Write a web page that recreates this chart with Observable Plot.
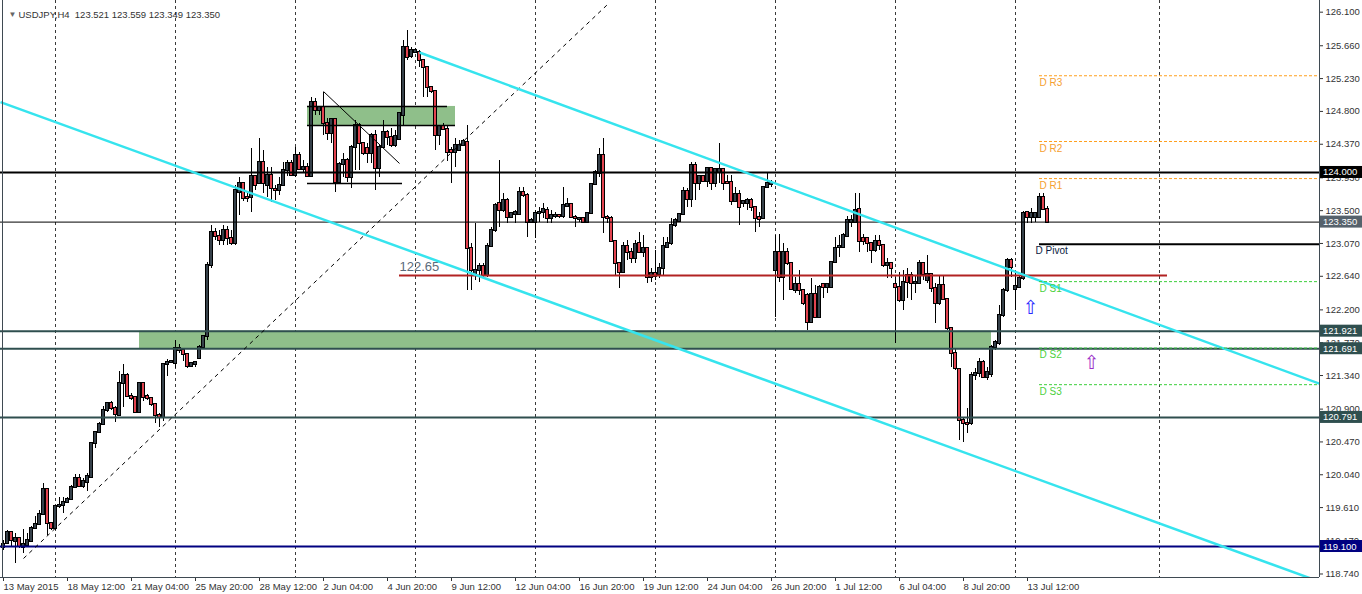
<!DOCTYPE html>
<html><head><meta charset="utf-8">
<script src="https://cdn.jsdelivr.net/npm/d3@7"></script>
<script src="https://cdn.jsdelivr.net/npm/@observablehq/plot@0.6"></script>
<style>
html,body{margin:0;padding:0;background:#fff;}
#chart{width:1362px;height:594px;overflow:hidden;}
</style></head><body><div id="chart"></div>
<script>
// ---- data (USDJPY H4, bar index 0 = first visible bar) ----
const open = [
119.09,119.14,119.28,119.17,119.21,119.09,119.11,119.17,119.34,119.39,
119.52,119.85,119.40,119.34,119.62,119.64,119.68,119.72,119.87,119.99,
119.89,119.94,120.00,120.45,120.59,120.70,120.88,120.97,120.91,120.82,
121.24,121.34,121.07,121.05,120.86,121.24,121.06,121.04,120.96,120.82,
120.79,121.48,121.51,121.50,121.69,121.67,121.62,121.46,121.49,121.56,
121.71,121.85,122.78,123.21,123.16,123.11,123.24,123.14,123.07,123.74,
123.86,123.67,123.67,123.95,123.86,124.13,123.83,123.96,123.78,123.76,
123.83,124.03,124.12,123.96,124.22,124.04,124.07,123.95,124.92,124.81,
124.85,124.64,124.51,124.69,123.87,124.10,124.16,123.93,124.33,124.62,
124.38,124.31,124.25,124.48,124.05,124.33,124.52,124.46,124.35,124.43,
124.75,125.64,125.52,125.57,125.57,125.47,125.38,125.11,125.06,124.49,
124.60,124.56,124.29,124.26,124.29,124.35,124.39,123.00,122.66,122.72,
122.77,122.65,123.03,123.24,123.59,123.50,123.63,123.41,123.45,123.45,
123.74,123.70,123.35,123.35,123.46,123.47,123.50,123.40,123.42,123.43,
123.42,123.56,123.58,123.41,123.38,123.40,123.35,123.46,123.84,123.99,
124.22,123.41,123.40,123.10,122.81,122.69,123.03,122.95,122.87,123.07,
122.95,123.01,122.62,122.68,122.66,122.74,123.02,123.07,123.31,123.36,
123.45,123.75,123.65,124.09,123.86,123.95,123.88,124.05,123.86,124.00,
124.04,123.87,123.87,123.62,123.71,123.59,123.59,123.63,123.54,123.41,
123.40,123.80,123.84,122.72,122.95,122.62,122.95,122.81,122.45,122.53,
122.45,122.39,122.04,122.40,122.10,122.53,122.49,122.49,122.82,123.02,
123.02,123.16,123.35,123.35,123.52,123.14,123.14,123.07,122.98,123.10,
123.04,122.78,122.81,122.53,122.49,122.32,122.65,122.65,122.55,122.55,
122.81,122.59,122.66,122.48,122.28,122.52,122.34,121.96,121.63,121.42,
120.75,120.71,120.71,121.34,121.37,121.51,121.32,121.35,121.71,121.76,
122.13,122.45,122.85,122.47,122.49,122.61,123.48,123.41,123.41,123.41,
123.67,123.521];
const high = [
119.18,119.31,119.29,119.27,119.22,119.32,119.27,119.36,119.49,119.57,
119.93,119.86,119.42,119.64,119.74,119.74,119.74,119.90,120.04,120.04,
119.99,120.06,120.46,120.59,120.73,120.93,120.99,121.00,120.93,121.39,
121.49,121.37,121.10,121.06,121.25,121.25,121.09,121.05,120.97,120.84,
121.50,121.55,121.54,121.80,121.75,121.69,121.63,121.51,121.52,121.73,
121.86,122.82,123.31,123.27,123.24,123.31,123.29,123.24,123.83,123.93,
123.87,123.72,124.31,123.96,124.45,124.29,124.07,124.07,123.83,123.93,
124.13,124.16,124.16,124.33,124.26,124.16,124.12,124.98,124.97,124.86,
125.05,124.71,124.71,124.71,124.13,124.25,124.18,124.35,124.68,124.64,
124.39,124.38,124.51,124.55,124.35,124.68,124.55,124.58,124.55,124.79,
125.73,125.86,125.64,125.62,125.60,125.48,125.39,125.12,125.07,124.62,
124.64,124.62,124.33,124.45,124.42,124.43,124.62,123.07,123.33,122.81,
122.81,123.07,123.28,123.59,124.16,123.73,123.66,123.48,123.50,123.80,
123.80,123.72,123.40,123.50,123.54,123.59,123.54,123.50,123.48,123.44,
123.80,123.66,123.59,123.44,123.41,123.41,123.48,123.86,124.03,124.31,
124.45,123.44,123.42,123.11,122.82,123.08,123.11,123.00,123.11,123.21,
123.17,123.02,122.74,122.98,122.81,123.15,123.15,123.40,123.40,123.46,
123.80,123.79,124.13,124.13,123.96,123.96,124.07,124.07,124.05,124.38,
124.05,123.96,123.96,123.80,123.76,123.63,123.66,123.66,123.55,123.48,
123.82,124.00,123.90,123.18,123.19,123.07,123.00,122.82,122.62,122.72,
122.47,122.41,122.61,122.52,122.52,122.55,122.53,122.82,123.15,123.18,
123.20,123.42,123.44,123.73,123.73,123.19,123.15,123.08,123.18,123.18,
123.06,122.87,122.82,122.62,122.69,122.72,122.74,122.69,122.65,122.85,
122.82,122.91,122.67,122.55,122.65,122.65,122.35,121.97,121.69,121.43,
120.79,120.91,121.38,121.43,121.56,121.54,121.45,121.73,121.80,122.26,
122.48,122.87,122.87,122.68,122.65,123.49,123.49,123.53,123.48,123.73,
123.73,123.559];
const low = [
119.05,119.12,119.09,118.88,119.07,119.01,119.10,119.16,119.32,119.37,
119.51,119.24,119.31,119.31,119.60,119.53,119.66,119.70,119.86,119.87,
119.86,119.82,119.99,120.38,120.58,120.69,120.86,120.88,120.72,120.81,
120.92,121.05,121.01,120.84,120.85,121.00,121.01,120.93,120.71,120.66,
120.74,121.33,121.50,121.43,121.63,121.52,121.43,121.45,121.45,121.55,
121.69,121.80,122.74,123.11,123.04,123.04,123.04,123.04,123.04,123.44,
123.62,123.61,123.48,123.76,123.84,123.72,123.67,123.61,123.63,123.70,
123.82,123.95,123.95,123.93,124.03,124.00,123.93,123.93,124.75,124.75,
124.48,124.42,124.38,123.74,123.86,123.93,123.87,123.79,124.03,124.03,
124.22,124.12,124.12,123.76,123.93,124.31,124.35,124.33,124.33,124.42,
124.62,125.47,125.49,125.56,125.38,124.98,124.98,125.03,124.29,124.35,
124.55,124.14,123.86,124.07,124.28,124.34,122.45,122.45,122.59,122.56,
122.62,122.62,123.02,123.21,123.28,123.48,123.33,123.40,123.33,123.44,
123.67,123.15,123.33,123.14,123.35,123.40,123.33,123.33,123.40,123.40,
123.40,123.54,123.40,123.28,123.35,123.33,123.33,123.45,123.83,123.93,
123.20,123.33,123.08,122.65,122.48,122.68,122.85,122.81,122.81,122.94,
122.89,122.55,122.56,122.59,122.61,122.65,123.00,123.04,123.28,123.35,
123.44,123.54,123.54,123.63,123.76,123.87,123.80,123.76,123.80,123.86,
123.76,123.84,123.57,123.61,123.31,123.54,123.50,123.49,123.21,123.28,
123.39,123.79,123.80,122.10,122.56,122.32,122.78,122.45,122.42,122.39,
122.26,121.93,122.02,122.09,122.09,122.35,122.42,122.48,122.81,122.89,
123.01,123.15,123.28,123.33,122.95,123.04,122.95,122.81,122.95,122.98,
122.76,122.61,122.61,121.76,122.30,122.19,122.35,122.32,122.42,122.54,
122.59,122.55,122.43,122.02,122.26,122.32,121.93,121.45,121.41,120.49,
120.46,120.58,120.69,121.28,121.32,121.30,121.28,121.32,121.67,121.73,
122.10,122.43,122.62,122.19,122.48,122.59,123.33,123.33,123.35,123.40,
123.50,123.349];
const close = [
119.13,119.28,119.18,119.21,119.10,119.13,119.18,119.34,119.39,119.52,
119.85,119.40,119.34,119.63,119.64,119.68,119.72,119.87,119.99,119.89,
119.95,120.02,120.45,120.59,120.70,120.88,120.97,120.91,120.83,121.24,
121.34,121.07,121.04,120.86,121.24,121.05,121.04,120.96,120.82,120.79,
121.48,121.51,121.52,121.69,121.67,121.62,121.46,121.50,121.51,121.71,
121.85,122.78,123.21,123.16,123.11,123.24,123.14,123.07,123.76,123.86,
123.66,123.66,123.95,123.83,124.13,123.86,123.96,123.79,123.76,123.83,
124.03,124.12,123.96,124.22,124.04,124.07,123.95,124.92,124.81,124.85,
124.64,124.51,124.69,123.87,124.10,124.16,123.93,124.33,124.62,124.38,
124.25,124.25,124.48,124.05,124.33,124.52,124.46,124.35,124.47,124.77,
125.64,125.51,125.60,125.60,125.47,125.38,125.11,125.06,124.49,124.60,
124.56,124.26,124.26,124.35,124.35,124.41,123.00,122.72,122.72,122.77,
122.65,123.03,123.24,123.57,123.50,123.63,123.41,123.46,123.48,123.74,
123.70,123.35,123.37,123.46,123.48,123.51,123.40,123.44,123.44,123.42,
123.57,123.58,123.41,123.40,123.40,123.35,123.46,123.84,124.00,124.22,
123.41,123.40,123.10,122.81,122.69,123.03,122.95,122.87,123.06,122.95,
123.00,122.62,122.68,122.64,122.74,123.03,123.07,123.31,123.37,123.45,
123.75,123.65,124.09,123.86,123.95,123.88,124.05,123.86,124.04,124.04,
123.86,123.86,123.62,123.71,123.54,123.62,123.63,123.54,123.40,123.39,
123.80,123.86,123.86,122.95,122.62,122.95,122.81,122.47,122.53,122.45,
122.28,122.04,122.40,122.10,122.49,122.49,122.53,122.82,123.00,123.03,
123.18,123.37,123.37,123.50,123.10,123.10,123.07,122.98,123.10,123.04,
122.78,122.81,122.74,122.49,122.32,122.56,122.56,122.55,122.56,122.81,
122.66,122.66,122.48,122.28,122.52,122.34,121.96,121.63,121.43,120.75,
120.71,120.70,121.34,121.37,121.51,121.32,121.38,121.71,121.77,122.13,
122.45,122.85,122.76,122.51,122.61,123.46,123.41,123.46,123.46,123.67,
123.52,123.350];

const timeLabels = ["13 May 2015","18 May 12:00","21 May 04:00","25 May 20:00","28 May 12:00","2 Jun 04:00","4 Jun 20:00","9 Jun 12:00","12 Jun 04:00","16 Jun 20:00","19 Jun 12:00","24 Jun 04:00","26 Jun 20:00","1 Jul 12:00","6 Jul 04:00","8 Jul 20:00","13 Jul 12:00"];
const timeLabelBars = [0,16,32,48,64,80,96,112,128,144,160,176,192,208,224,240,256];
const gridBars = [13,43,73,103,133,163,193,223,253,289];
const priceTicks = [126.100,125.660,125.230,124.800,124.370,123.930,123.500,123.070,122.640,122.200,121.770,121.340,120.900,120.470,120.040,119.610,119.170,118.740];

// horizontal levels
const resistance = 124.000;
const currentPrice = 123.350;
const zoneLevels = [121.921, 121.691, 120.791];
const supportLevel = 119.100;
const redLevel = 122.65;
const redLevelSpan = [99, 291];

// pivots
const pivotNames = ["D R3","D R2","D R1","D Pivot","D S1","D S2","D S3"];
const pivotValues = [125.267,124.406,123.920,123.060,122.570,121.700,121.220];
const pivotStartBar = 259;

// zones [bar from, bar to, price low, price high]
const bigZone = [34, 247, 121.691, 121.921];
const smallZone = [76, 113, 124.616, 124.865];

// trend lines [bar1, price1, bar2, price2]
const channelUpper = [104, 125.572, 329, 121.233];
const channelLower = [-0.75, 124.922, 329, 118.64];
const dashedTrend = [5, 118.943, 151, 126.20];
const thinDiagonal = [80, 125.061, 99, 124.118];
const boxLines = [[76, 111, 124.865], [76, 113, 124.616], [76, 99.75, 123.856]];

// arrows [bar, price]
const arrows = [[256.75, 122.23], [272, 121.50]];

// ---- build ----
const n = open.length;
const candles = d3.range(n).map(i => ({i, o: open[i], h: high[i], l: low[i], c: close[i]}));
const W = 1362, H = 594, mR = 43, mB = 17;
const seg = a => [{x1: a[0], y1: a[1], x2: a[2], y2: a[3]}];
const font = "'Liberation Sans', Arial, sans-serif";
const title = `USDJPY,H4\u00a0\u00a0${open[n-1].toFixed(3)} ${high[n-1].toFixed(3)} ${low[n-1].toFixed(3)} ${close[n-1].toFixed(3)}`;
const pivots = pivotNames.map((name, k) => ({name, v: pivotValues[k], k}));
const pivotColor = k => k < 3 ? "#ff9f1c" : k === 3 ? "#000" : "#3ccf3c";
const labelColor = k => k < 3 ? "#f5a030" : k === 3 ? "#0a1a40" : "#4cd040";

const chart = Plot.plot({
  width: W, height: H,
  marginLeft: 0, marginRight: mR, marginTop: 0, marginBottom: mB,
  x: {domain: [-0.75, 329]},
  y: {domain: [118.694, 126.253]},
  style: {fontFamily: font, fontSize: "9px", background: "#fff", color: "#333", overflow: "visible"},
  marks: [
    Plot.ruleX(gridBars, {stroke: "#3a3a3a", strokeDasharray: "3,3", strokeWidth: 1}),
    // zones
    Plot.rect([bigZone], {x1: d => d[0], x2: d => d[1], y1: d => d[2], y2: d => d[3], fill: "#8fbf8a"}),
    Plot.rect([smallZone], {x1: d => d[0], x2: d => d[1], y1: d => d[2], y2: d => d[3], fill: "#8fbf8a"}),
    // candles
    Plot.ruleX(candles, {x: "i", y1: "l", y2: "h", stroke: "#000", strokeWidth: 1, shapeRendering: "crispEdges"}),
    Plot.rect(candles.filter(d => d.c >= d.o), {x1: d => d.i - 0.3, x2: d => d.i + 0.3, y1: "o", y2: "c", fill: "#36414a", stroke: "#000", strokeWidth: 1, insetTop: -0.5, insetBottom: -0.5, shapeRendering: "crispEdges"}),
    Plot.rect(candles.filter(d => d.c < d.o), {x1: d => d.i - 0.3, x2: d => d.i + 0.3, y1: "o", y2: "c", fill: "#e2434f", stroke: "#000", strokeWidth: 1, insetTop: -0.5, insetBottom: -0.5, shapeRendering: "crispEdges"}),
    // levels
    Plot.ruleY([resistance], {stroke: "#000", strokeWidth: 2}),
    Plot.ruleY([currentPrice], {stroke: "#000", strokeWidth: 1}),
    Plot.ruleY(zoneLevels, {stroke: "#2f4f4f", strokeWidth: 2}),
    Plot.ruleY([supportLevel], {stroke: "#000080", strokeWidth: 2}),
    Plot.ruleY([redLevel], {x1: redLevelSpan[0], x2: redLevelSpan[1], stroke: "#b22222", strokeWidth: 2}),
    Plot.text([redLevel.toFixed(2)], {x: redLevelSpan[0], y: redLevel, dy: -9, textAnchor: "start", fill: "#5b6b7b", fontSize: 13}),
    // drawn box lines
    Plot.ruleY(boxLines, {x1: d => d[0], x2: d => d[1], y: d => d[2], stroke: "#000", strokeWidth: 1.5}),
    Plot.link(seg(thinDiagonal), {x1: "x1", y1: "y1", x2: "x2", y2: "y2", stroke: "#000", strokeWidth: 1}),
    Plot.link(seg(dashedTrend), {x1: "x1", y1: "y1", x2: "x2", y2: "y2", stroke: "#000", strokeWidth: 1, strokeDasharray: "4,4"}),
    Plot.link(seg(channelUpper), {x1: "x1", y1: "y1", x2: "x2", y2: "y2", stroke: "#36e4ee", strokeWidth: 2.5, clip: true}),
    Plot.link(seg(channelLower), {x1: "x1", y1: "y1", x2: "x2", y2: "y2", stroke: "#36e4ee", strokeWidth: 2.5, clip: true}),
    // pivots
    Plot.ruleY(pivots.filter(d => d.k !== 3), {x1: pivotStartBar, x2: 329, y: "v", stroke: d => pivotColor(d.k), strokeDasharray: "3,2", strokeWidth: 1}),
    Plot.ruleY(pivots.filter(d => d.k === 3), {x1: pivotStartBar, x2: 329, y: "v", stroke: "#000", strokeWidth: 2}),
    Plot.text(pivots.filter(d => d.k !== 3), {x: pivotStartBar, y: "v", text: "name", dy: 7, textAnchor: "start", fill: d => labelColor(d.k), fontSize: 10}),
    Plot.text(pivots.filter(d => d.k === 3), {x: pivotStartBar, y: "v", text: "name", dy: 7, dx: -4, textAnchor: "start", fill: "#0a1a40", fontSize: 10}),
    // arrows
    Plot.text(arrows.slice(0, 1), {x: d => d[0], y: d => d[1], text: () => "\u21e7", fill: "#2a2aff", fontSize: 19, fontFamily: "DejaVu Sans"}),
    Plot.text(arrows.slice(1), {x: d => d[0], y: d => d[1], text: () => "\u21e7", fill: "#9b30c8", fontSize: 19, fontFamily: "DejaVu Sans"}),
    // title
    Plot.text(["\u25bc"], {frameAnchor: "top-left", dx: 8, dy: 11, fill: "#666", fontSize: 8}),
    Plot.text([title], {frameAnchor: "top-left", dx: 18, dy: 11, textAnchor: "start", fill: "#333", fontSize: 9.5}),
    // axes
    Plot.axisY(priceTicks, {anchor: "right", tickSize: 3, tickPadding: 3, tickFormat: d => d.toFixed(3), fill: "#333", fontSize: 9.5}),
    Plot.axisX(timeLabelBars, {anchor: "bottom", tickSize: 4, tickPadding: 2, textAnchor: "start", tickFormat: d => timeLabels[timeLabelBars.indexOf(d)], fill: "#333", fontSize: 9.5})
  ]
});
document.getElementById("chart").appendChild(chart);

// frame lines and price boxes on the right axis
const ys = chart.scale("y");
const svg = d3.select(chart);
const xR = W - mR, yB = H - mB;
svg.append("line").attr("x1", xR + 0.5).attr("x2", xR + 0.5).attr("y1", 0).attr("y2", yB).attr("stroke", "#3f4a52");
svg.append("line").attr("x1", 0).attr("x2", xR).attr("y1", yB + 0.5).attr("y2", yB + 0.5).attr("stroke", "#3f4a52");
svg.append("line").attr("x1", 2.5).attr("x2", 2.5).attr("y1", 0).attr("y2", yB).attr("stroke", "#3f4a52");
const boxes = [
  [resistance, "#000000"], [currentPrice, "#56626c"],
  [zoneLevels[0], "#2f4f4f"], [zoneLevels[1], "#2f4f4f"], [zoneLevels[2], "#2f4f4f"],
  [supportLevel, "#000080"]
];
boxes.forEach(([v, col]) => {
  const y = ys.apply(v);
  svg.append("rect").attr("x", xR + 1).attr("y", y - 6).attr("width", W - xR - 1).attr("height", 12).attr("fill", col);
  svg.append("text").attr("x", xR + 4).attr("y", y + 3.5).attr("fill", "#fff").attr("text-anchor", "start")
    .attr("font-family", font).attr("font-size", 9.5).text(v.toFixed(3));
});
</script></body></html>
